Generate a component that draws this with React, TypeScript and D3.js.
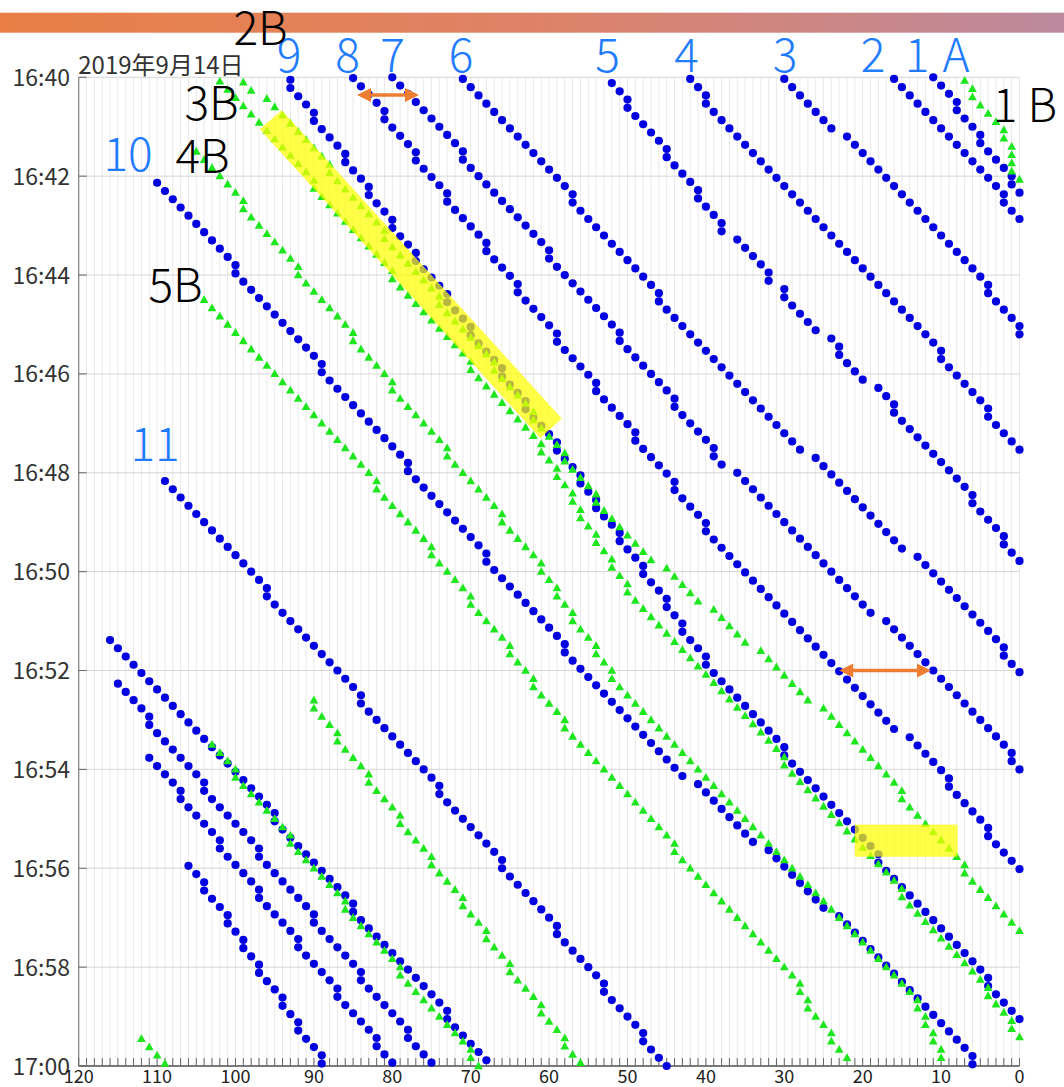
import React from "react";
import * as d3 from "d3";

// One run = one vehicle's position log, sampled every 10 s.
// start: seconds after 16:40:00 of the first sample
// from/to: first and last km post; holds: km posts logged again on the next sample
// skips: km posts passed between two samples (no dot)
type Run = { start: number; from: number; to: number; holds: number[]; skips?: number[] };

const SAMPLE_SEC = 10;

// blue circles: runs 1-9 (from the top), 10, 11 and four later runs from the left end
const blueRuns: Run[] = [
  { start: 0, from: 11, to: 0, holds: [8, 5, 1] },
  { start: 2, from: 16, to: 0, holds: [2] },
  { start: 2, from: 30, to: 0, holds: [4, 0], skips: [23] },
  { start: 2, from: 42, to: 0, holds: [40, 10, 4] },
  { start: 7, from: 52, to: 0, holds: [50, 45, 41, 38, 32, 30, 23, 16, 6, 2], skips: [37, 31, 25, 19] },
  { start: 2, from: 71, to: 0, holds: [57, 46, 2], skips: [27, 14] },
  { start: 0, from: 80, to: 0, holds: [71, 60, 51, 44, 39, 1], skips: [37, 18] },
  { start: 1, from: 85, to: 0, holds: [81, 77, 73, 68, 64, 59, 54, 49, 44, 40, 9, 4], skips: [15] },
  { start: 3, from: 93, to: 0, holds: [93, 90, 86, 83, 80, 77, 73, 70, 66, 63, 59, 56, 54, 51, 48, 45, 43, 40, 30, 18, 4] },
  { start: 128, from: 110, to: 6, holds: [100, 89, 78, 68, 58, 6], skips: [42, 33, 24] },
  { start: 490, from: 109, to: 45, holds: [96, 84, 74, 66, 59, 53, 48] },
  { start: 683, from: 116, to: 68, holds: [95, 85, 73] },
  { start: 736, from: 115, to: 75, holds: [111, 104, 97, 90, 84, 78] },
  { start: 826, from: 111, to: 80, holds: [107, 102, 97, 92, 87, 82] },
  { start: 957, from: 106, to: 89, holds: [104, 101, 99, 97, 94, 92, 89] },
];

// green triangles: A, 3B, 2B, 4B, 5B and three later runs
const greenRuns: Run[] = [
  { start: 4, from: 7, to: 0, holds: [6, 2, 1, 1, 1] },
  { start: 5, from: 102, to: 0, holds: [90, 80, 70, 61, 59, 57, 56, 54, 52, 50, 30, 15, 4, 1] },
  { start: 6, from: 99, to: 0, holds: [88, 81, 74, 67, 62, 58, 54, 15, 7], skips: [97, 46, 40, 34, 26] },
  { start: 90, from: 105, to: 10, holds: [99, 92, 85, 80, 73, 66, 61, 59, 57, 54, 52, 13, 12, 11, 10] },
  { start: 270, from: 104, to: 22, holds: [82, 75, 70, 65, 62, 58, 44, 28, 27, 24] },
  { start: 756, from: 90, to: 56, holds: [90, 87, 83, 79, 75, 71, 68, 65, 61, 58] },
  { start: 810, from: 103, to: 69, holds: [100, 93, 86, 79, 70] },
  { start: 1167, from: 112, to: 109, holds: [] },
];

const timeTickLabels = ["16:40", "16:42", "16:44", "16:46", "16:48", "16:50", "16:52", "16:54", "16:56", "16:58", "17:00"];
const kmTickLabels = [120, 110, 100, 90, 80, 70, 60, 50, 40, 30, 20, 10, 0];
const dateLabel = "2019年9月14日";

// highlighted stretches [km, seconds]
const highlightBand: [number, number][] = [[96.9, 63], [94.1, 40], [58.4, 414], [61.1, 438]];
const highlightBox = { km0: 21.0, km1: 7.9, t0: 907, t1: 946 };
// headway arrows [kmA, kmB, seconds]
const headwayArrows: [number, number, number][] = [[84.5, 76.6, 21.5], [23.0, 11.3, 720]];

// run labels
const blueNames = ["9", "8", "7", "6", "5", "4", "3", "2", "1", "A", "10", "11"];
const blackNames = ["2B", "3B", "4B", "5B", "1 B"];

function expand(run: Run) {
  const pts: { km: number; t: number }[] = [];
  let k = 0;
  for (let km = run.from; km >= run.to; km--) {
    if (run.skips && run.skips.includes(km)) continue;
    const reps = 1 + run.holds.filter((h) => h === km).length;
    for (let r = 0; r < reps; r++) {
      pts.push({ km, t: run.start + k * SAMPLE_SEC });
      k++;
    }
  }
  return pts;
}

const W = 1064;
const H = 1087;
const BLUE = "#0000e0";
const GREEN = "#1ee61e";
const LABEL_BLUE = "#1f7bff";
const ORANGE = "#ed7d31";
const CJK = "'Noto Sans CJK JP', 'Noto Sans', sans-serif";

export default function App() {
  const x = d3.scaleLinear().domain([120, 0]).range([78.7, 1019.5]);
  const y = d3.scaleLinear().domain([0, 1200]).range([77.3, 1066]);

  const kmGrid = d3.range(0, 121, 1);
  const timeGrid = d3.range(0, 1201, 120);

  const blueDots = blueRuns.flatMap((r) => expand(r));
  const greenDots = greenRuns.flatMap((r) => expand(r));

  const tri = "M0,-4.6L4.4,3.2L-4.4,3.2Z";

  const blueLabelPos: [number, number][] = [
    [289, 72], [347.5, 72], [392.5, 72], [461, 72], [607.5, 72], [686.5, 72],
    [785, 72], [873, 72], [917, 72], [956, 72], [128, 171], [155, 461],
  ];
  const blackLabelPos: [number, number][] = [[260.5, 45], [211.5, 120], [202.5, 173], [175.5, 302], [1025, 121.5]];

  const arrow = (a: [number, number, number], i: number) => {
    const x1 = x(a[0]);
    const x2 = x(a[1]);
    const yy = y(a[2]);
    const hl = 14;
    const hw = 7;
    return (
      <g key={i}>
        <line x1={x1 + hl - 2} x2={x2 - hl + 2} y1={yy} y2={yy} stroke={ORANGE} strokeWidth={3.5} />
        <polygon points={`${x1},${yy} ${x1 + hl},${yy - hw} ${x1 + hl},${yy + hw}`} fill={ORANGE} />
        <polygon points={`${x2},${yy} ${x2 - hl},${yy - hw} ${x2 - hl},${yy + hw}`} fill={ORANGE} />
      </g>
    );
  };

  return (
    <svg
      width={W}
      height={H}
      style={{ position: "absolute", left: 0, top: 0, background: "#fff" }}
    >
      <defs>
        <linearGradient id="topBar" x1="0" x2="1" y1="0" y2="0">
          <stop offset="0" stopColor="#e97f45" />
          <stop offset="0.5" stopColor="#de8267" />
          <stop offset="1" stopColor="#bd8a9e" />
        </linearGradient>
      </defs>
      <rect x={0} y={12.7} width={W} height={20} fill="url(#topBar)" />

      {/* grid */}
      <g>
        {kmGrid.map((k) => (
          <line key={"v" + k} x1={x(k)} x2={x(k)} y1={y(0)} y2={y(1200)} stroke="#e9e9e9" strokeWidth={1} />
        ))}
        {timeGrid.map((t) => (
          <line key={"h" + t} x1={x(120)} x2={x(0)} y1={y(t)} y2={y(t)} stroke="#d6d6d6" strokeWidth={1} />
        ))}
      </g>

      {/* axes */}
      <g>
        <line x1={x(120)} x2={x(120)} y1={y(0)} y2={y(1200)} stroke="#808080" strokeWidth={1.2} />
        <line x1={x(120)} x2={x(0)} y1={y(1200)} y2={y(1200)} stroke="#555" strokeWidth={1.3} />
        {kmGrid.map((k) => (
          <line key={"bt" + k} x1={x(k)} x2={x(k)} y1={y(1200)} y2={y(1200) - 8} stroke="#666" strokeWidth={1} />
        ))}
        {timeGrid.map((t) => (
          <line key={"lt" + t} x1={x(120)} x2={x(120) + 8} y1={y(t)} y2={y(t)} stroke="#666" strokeWidth={1} />
        ))}
        {timeTickLabels.map((s, i) => (
          <text key={s} x={70} y={y(timeGrid[i]) + 8.5} textAnchor="end" fontSize={23} fill="#333" fontFamily={CJK}>
            {s}
          </text>
        ))}
        {kmTickLabels.map((k) => (
          <text key={"xl" + k} x={x(k)} y={1083.3} textAnchor="middle" fontSize={18} fill="#222" fontFamily={CJK}>
            {k}
          </text>
        ))}
        <text x={78.3} y={74} fontSize={24} fill="#333" fontFamily={CJK}>
          {dateLabel}
        </text>
      </g>

      {/* runs */}
      <g fill={BLUE}>
        {blueDots.map((p, i) => (
          <circle key={"b" + i} cx={x(p.km)} cy={y(p.t)} r={4.1} />
        ))}
      </g>
      <g fill={GREEN}>
        {greenDots.map((p, i) => (
          <path key={"g" + i} d={tri} transform={`translate(${x(p.km)},${y(p.t)})`} />
        ))}
      </g>

      {/* highlights */}
      <polygon
        points={highlightBand.map(([k, t]) => `${x(k)},${y(t)}`).join(" ")}
        fill="#ffff00"
        fillOpacity={0.72}
      />
      <rect
        x={x(highlightBox.km0)}
        y={y(highlightBox.t0)}
        width={x(highlightBox.km1) - x(highlightBox.km0)}
        height={y(highlightBox.t1) - y(highlightBox.t0)}
        fill="#ffff00"
        fillOpacity={0.72}
      />
      {headwayArrows.map(arrow)}

      {/* labels */}
      {blueNames.map((s, i) => (
        <text key={"bn" + s} x={blueLabelPos[i][0]} y={blueLabelPos[i][1]} textAnchor="middle" fontSize={46} fontWeight={300} fill={LABEL_BLUE} fontFamily={CJK}>
          {s}
        </text>
      ))}
      {blackNames.map((s, i) => (
        <text key={"kn" + s} x={blackLabelPos[i][0]} y={blackLabelPos[i][1]} textAnchor="middle" fontSize={46} fontWeight={300} fill="#000" fontFamily={CJK} style={{ whiteSpace: "pre" }}>
          {s}
        </text>
      ))}
    </svg>
  );
}
